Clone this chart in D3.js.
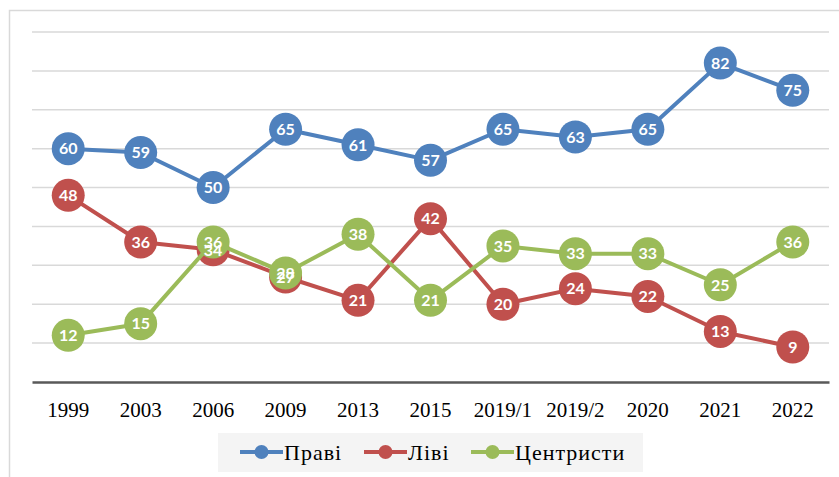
<!DOCTYPE html>
<html>
<head>
<meta charset="utf-8">
<script src="https://cdn.jsdelivr.net/npm/d3@7"></script>
<style>
  body { margin: 0; background: #fff; }
  svg { display: block; }
</style>
</head>
<body>
<svg id="chart" width="839" height="477"></svg>
<script>
const years = ["1999", "2003", "2006", "2009", "2013", "2015", "2019/1", "2019/2", "2020", "2021", "2022"];
const pravi = [60, 59, 50, 65, 61, 57, 65, 63, 65, 82, 75];
const livi = [48, 36, 34, 27, 21, 42, 20, 24, 22, 13, 9];
const tsentrysty = [12, 15, 36, 28, 38, 21, 35, 33, 33, 25, 36];
const yTicks = [0, 10, 20, 30, 40, 50, 60, 70, 80, 90];

const series = [
  { name: "Праві", color: "#4f81bd", values: pravi },
  { name: "Ліві", color: "#c0504d", values: livi },
  { name: "Центристи", color: "#9bbb59", values: tsentrysty }
];

const svg = d3.select("#chart");

// outer frame
svg.append("rect")
  .attr("x", 9.5).attr("y", 10.5)
  .attr("width", 840).attr("height", 480)
  .attr("fill", "#fff")
  .attr("stroke", "#d9d9d9")
  .attr("stroke-width", 1.5);

const plotLeft = 32, plotRight = 829, plotTop = 32, plotBottom = 382;

const x = d3.scaleBand().domain(years).range([plotLeft, plotRight]);
const y = d3.scaleLinear().domain([0, 90]).range([plotBottom, plotTop]);

// gridlines
svg.append("g")
  .selectAll("line")
  .data(yTicks.slice(1))
  .enter().append("line")
  .attr("x1", plotLeft).attr("x2", plotRight)
  .attr("y1", d => y(d)).attr("y2", d => y(d))
  .attr("stroke", "#d9d9d9")
  .attr("stroke-width", 1.5);

// x axis
const xAxis = svg.append("g")
  .attr("transform", "translate(0," + plotBottom + ")")
  .call(d3.axisBottom(x).tickSize(0).tickPadding(20));
xAxis.select(".domain")
  .attr("stroke", "#595959")
  .attr("stroke-width", 2.5);
xAxis.selectAll("text")
  .style("font-family", "'Liberation Serif', 'Times New Roman', serif")
  .style("font-size", "21px")
  .attr("fill", "#000");

const line = d3.line()
  .x((d, i) => x(years[i]) + x.bandwidth() / 2)
  .y(d => y(d));

series.forEach(s => {
  const g = svg.append("g");
  g.append("path")
    .datum(s.values)
    .attr("d", line)
    .attr("fill", "none")
    .attr("stroke", s.color)
    .attr("stroke-width", 4)
    .attr("stroke-linejoin", "round");
  g.selectAll("circle")
    .data(s.values)
    .enter().append("circle")
    .attr("cx", (d, i) => x(years[i]) + x.bandwidth() / 2)
    .attr("cy", d => y(d))
    .attr("r", 16.5)
    .attr("fill", s.color);
});

// value labels
series.forEach(s => {
  svg.append("g")
    .selectAll("text")
    .data(s.values)
    .enter().append("text")
    .attr("x", (d, i) => x(years[i]) + x.bandwidth() / 2)
    .attr("y", d => y(d))
    .attr("dy", "0.36em")
    .attr("text-anchor", "middle")
    .attr("fill", "#fff")
    .style("font-family", "Lato, 'Open Sans', sans-serif")
    .style("font-weight", "bold")
    .style("font-size", "16px")
    .text(d => d);
});

// legend
const legend = svg.append("g");
legend.append("rect")
  .attr("x", 218).attr("y", 433)
  .attr("width", 425).attr("height", 39)
  .attr("fill", "#f4f4f4");

const legendX = [240, 364, 471];
series.forEach((s, i) => {
  const lg = legend.append("g").attr("transform", "translate(" + legendX[i] + ",452)");
  lg.append("line")
    .attr("x1", 0).attr("x2", 43)
    .attr("stroke", s.color).attr("stroke-width", 4);
  lg.append("circle").attr("cx", 21.5).attr("r", 7).attr("fill", s.color);
  lg.append("text")
    .attr("x", 44).attr("y", 8)
    .style("font-family", "'Liberation Serif', 'Times New Roman', serif")
    .style("font-size", "22px")
    .style("letter-spacing", "1px")
    .attr("fill", "#000")
    .text(s.name);
});
</script>
</body>
</html>
